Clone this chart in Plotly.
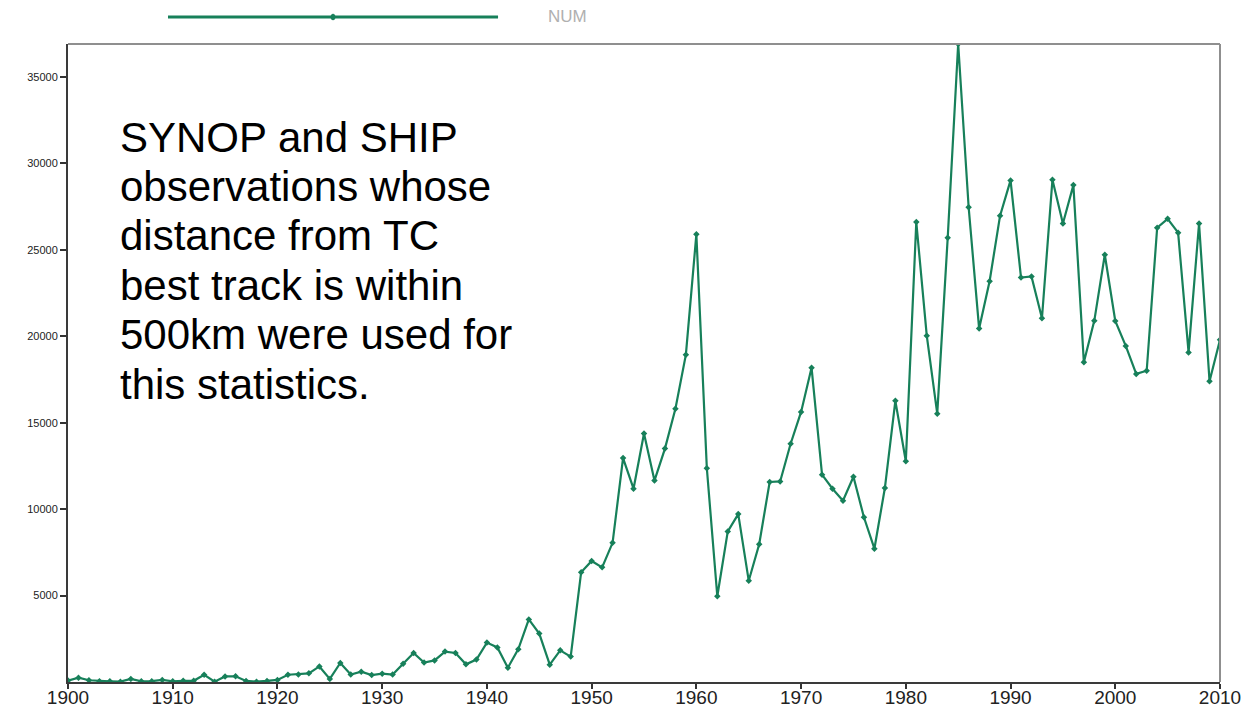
import plotly.graph_objects as go

# Yearly count of SYNOP/SHIP observations near TC best tracks
years = list(range(1900, 2011))
num = [
    80, 250, 100, 50, 40, 20, 180, 40, 50, 120,            # 1900-1909
    40, 70, 70, 420, 20, 320, 330, 60, 20, 60,             # 1910-1919
    120, 420, 440, 500, 900, 180, 1100, 430, 600, 400,     # 1920-1929
    480, 430, 1060, 1680, 1130, 1250, 1760, 1680, 1020, 1300,  # 1930-1939
    2280, 2000, 820, 1900, 3620, 2800, 1000, 1830, 1470, 6350,  # 1940-1949
    7000, 6630, 8050, 12950, 11180, 14370, 11650, 13500, 15800, 18930,  # 1950-1959
    25890, 12360, 4960, 8710, 9710, 5860, 7970, 11570, 11600, 13780,   # 1960-1969
    15620, 18180, 11990, 11180, 10480, 11870, 9530, 7710, 11220, 16260,  # 1970-1979
    12770, 26600, 20030, 15520, 25690, 36900, 27460, 20440, 23180, 26970,  # 1980-1989
    29010, 23390, 23460, 21040, 29050, 26520, 28740, 18490, 20900, 24710,  # 1990-1999
    20880, 19440, 17820, 18000, 26270, 26790, 25990, 19060, 26520, 17400,  # 2000-2009
    19800,                                                  # 2010
]

y_ticks = [5000, 10000, 15000, 20000, 25000, 30000, 35000]
y_tick_labels = [str(v) for v in y_ticks]
x_ticks = [1900, 1910, 1920, 1930, 1940, 1950, 1960, 1970, 1980, 1990, 2000, 2010]

series_name = "NUM"
note_lines = [
    "SYNOP and SHIP",
    "observations whose",
    "distance from TC",
    "best track is within",
    "500km were used for",
    "this statistics.",
]

GREEN = "#17805a"
FONT = "Liberation Sans, Arial, sans-serif"

# plot area in pixels: top 44, bottom 682 (height 638), left 68, width 1152
PLOT_TOP, PLOT_H = 44, 638


def py_to_paper(py):
    return (PLOT_TOP + PLOT_H - py) / PLOT_H


fig = go.Figure()
fig.add_trace(go.Scatter(
    x=years, y=num, mode="lines+markers", name=series_name,
    line=dict(color=GREEN, width=2.2),
    marker=dict(symbol="diamond", size=5, color=GREEN),
    showlegend=False,
))

# Legend drawn as a long line with a centre marker and a grey label
legend_y = py_to_paper(17)
fig.add_shape(type="line", xref="paper", yref="paper",
              x0=0.0868, x1=0.3733, y0=legend_y, y1=legend_y,
              line=dict(color=GREEN, width=3))
fig.add_shape(type="circle", xref="paper", yref="paper",
              x0=0.2283, x1=0.2318, y0=legend_y - 0.0045, y1=legend_y + 0.0045,
              line=dict(color=GREEN, width=1), fillcolor=GREEN)
fig.add_annotation(text=series_name, xref="paper", yref="paper",
                   x=0.4145, y=legend_y, xanchor="left", yanchor="middle",
                   showarrow=False, font=dict(family=FONT, size=17, color="#b0b0b0"))

# Light grey frame on the top and right sides
fig.add_shape(type="line", xref="paper", yref="paper", x0=0, x1=1, y0=1, y1=1,
              line=dict(color="#8f8f8f", width=2))
fig.add_shape(type="line", xref="paper", yref="paper", x0=1, x1=1, y0=0, y1=1,
              line=dict(color="#8f8f8f", width=2))

# Note text, one annotation per line for tight line spacing
for i, line in enumerate(note_lines):
    fig.add_annotation(text=line, xref="paper", yref="paper",
                       x=0.0434, y=py_to_paper(137 + 49.4 * i),
                       xanchor="left", yanchor="middle", align="left",
                       showarrow=False, font=dict(family=FONT, size=42, color="#000000"))

fig.update_layout(
    width=1248, height=711,
    margin=dict(l=68, r=28, t=44, b=29),
    paper_bgcolor="white", plot_bgcolor="white",
    xaxis=dict(range=[1900, 2010], tickvals=x_ticks, ticks="outside", ticklen=5,
               tickcolor="#333333", tickwidth=1.5, showgrid=False, zeroline=False,
               showline=True, linecolor="#3a3a3a", linewidth=2, automargin=False,
               ticklabelstandoff=-8,
               tickfont=dict(family=FONT, size=19, color="#222222")),
    yaxis=dict(range=[0, 36900], tickvals=y_ticks, ticktext=y_tick_labels,
               ticks="outside", ticklen=6,
               tickcolor="#333333", tickwidth=1.5, showgrid=False, zeroline=False,
               showline=True, linecolor="#3a3a3a", linewidth=2, automargin=False,
               tickfont=dict(family=FONT, size=11, color="#222222")),
)

fig.write_html("out.html")
